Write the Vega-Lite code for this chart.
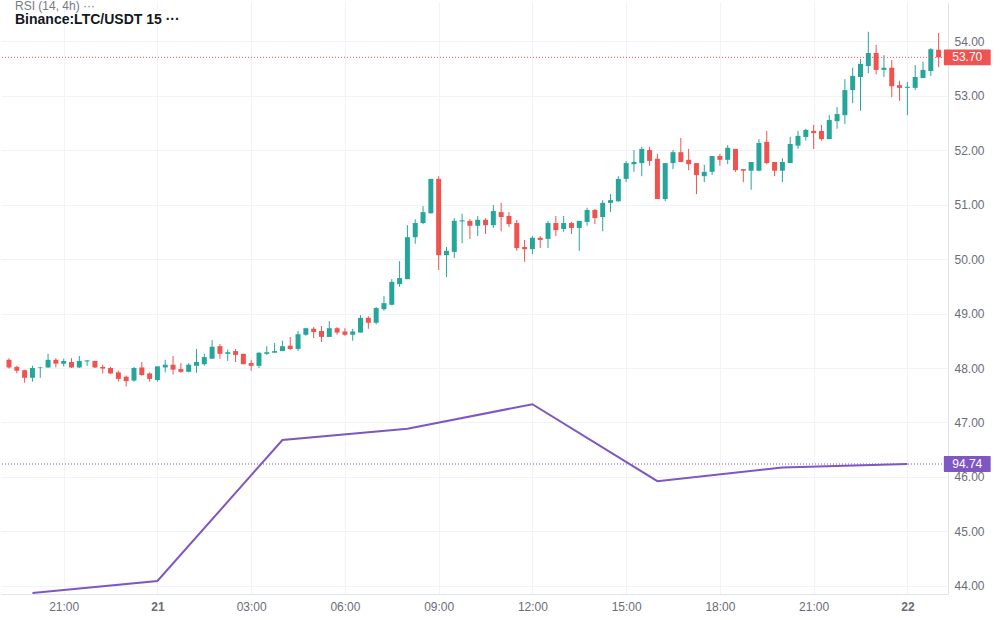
{
  "$schema": "https://vega.github.io/schema/vega-lite/v6.json",
  "width": 947,
  "height": 592,
  "padding": {"left": 0, "top": 0, "right": 5, "bottom": 5},
  "title": {
    "text": "RSI (14, 4h) ···",
    "subtitle": "Binance:LTC/USDT 15 ···",
    "anchor": "start",
    "frame": "group",
    "offset": -26,
    "dx": 14,
    "font": "Liberation Sans",
    "fontSize": 12,
    "fontWeight": "normal",
    "color": "#787b86",
    "subtitleFont": "Liberation Sans",
    "subtitleFontSize": 14,
    "subtitleFontWeight": "bold",
    "subtitleColor": "#131722",
    "subtitlePadding": 0
  },
  "layer": [
    {
      "data": {
        "values": [
          {"t":"2020-10-20T19:15","o":48.15,"h":48.18,"l":47.99,"c":48.01},
          {"t":"2020-10-20T19:30","o":48.02,"h":48.04,"l":47.90,"c":47.95},
          {"t":"2020-10-20T19:45","o":47.96,"h":47.97,"l":47.73,"c":47.82},
          {"t":"2020-10-20T20:00","o":47.82,"h":48.04,"l":47.75,"c":48.00},
          {"t":"2020-10-20T20:15","o":48.00,"h":48.02,"l":47.82,"c":48.01},
          {"t":"2020-10-20T20:30","o":48.01,"h":48.26,"l":48.00,"c":48.15},
          {"t":"2020-10-20T20:45","o":48.15,"h":48.18,"l":48.01,"c":48.08},
          {"t":"2020-10-20T21:00","o":48.08,"h":48.17,"l":48.03,"c":48.13},
          {"t":"2020-10-20T21:15","o":48.11,"h":48.18,"l":48.00,"c":48.01},
          {"t":"2020-10-20T21:30","o":48.01,"h":48.22,"l":48.00,"c":48.13},
          {"t":"2020-10-20T21:45","o":48.12,"h":48.14,"l":48.04,"c":48.14},
          {"t":"2020-10-20T22:00","o":48.13,"h":48.13,"l":48.00,"c":48.01},
          {"t":"2020-10-20T22:15","o":48.02,"h":48.06,"l":47.90,"c":47.99},
          {"t":"2020-10-20T22:30","o":48.00,"h":48.02,"l":47.89,"c":47.90},
          {"t":"2020-10-20T22:45","o":47.92,"h":47.95,"l":47.75,"c":47.80},
          {"t":"2020-10-20T23:00","o":47.84,"h":47.86,"l":47.66,"c":47.76},
          {"t":"2020-10-20T23:15","o":47.77,"h":48.02,"l":47.75,"c":48.00},
          {"t":"2020-10-20T23:30","o":48.01,"h":48.11,"l":47.86,"c":47.87},
          {"t":"2020-10-20T23:45","o":47.90,"h":47.92,"l":47.75,"c":47.80},
          {"t":"2020-10-21T00:00","o":47.78,"h":48.03,"l":47.75,"c":48.03},
          {"t":"2020-10-21T00:15","o":48.01,"h":48.15,"l":47.92,"c":48.06},
          {"t":"2020-10-21T00:30","o":48.06,"h":48.22,"l":47.88,"c":47.97},
          {"t":"2020-10-21T00:45","o":47.98,"h":48.09,"l":47.91,"c":47.93},
          {"t":"2020-10-21T01:00","o":47.93,"h":48.09,"l":47.92,"c":48.06},
          {"t":"2020-10-21T01:15","o":48.04,"h":48.35,"l":47.91,"c":48.11},
          {"t":"2020-10-21T01:30","o":48.07,"h":48.26,"l":48.04,"c":48.20},
          {"t":"2020-10-21T01:45","o":48.17,"h":48.51,"l":48.17,"c":48.39},
          {"t":"2020-10-21T02:00","o":48.40,"h":48.44,"l":48.17,"c":48.26},
          {"t":"2020-10-21T02:15","o":48.26,"h":48.34,"l":48.13,"c":48.29},
          {"t":"2020-10-21T02:30","o":48.31,"h":48.35,"l":48.11,"c":48.24},
          {"t":"2020-10-21T02:45","o":48.26,"h":48.26,"l":48.07,"c":48.07},
          {"t":"2020-10-21T03:00","o":48.09,"h":48.15,"l":47.95,"c":48.04},
          {"t":"2020-10-21T03:15","o":48.04,"h":48.29,"l":48.00,"c":48.28},
          {"t":"2020-10-21T03:30","o":48.26,"h":48.40,"l":48.24,"c":48.29},
          {"t":"2020-10-21T03:45","o":48.28,"h":48.46,"l":48.28,"c":48.31},
          {"t":"2020-10-21T04:00","o":48.31,"h":48.50,"l":48.31,"c":48.40},
          {"t":"2020-10-21T04:15","o":48.41,"h":48.57,"l":48.33,"c":48.35},
          {"t":"2020-10-21T04:30","o":48.35,"h":48.68,"l":48.31,"c":48.62},
          {"t":"2020-10-21T04:45","o":48.61,"h":48.73,"l":48.59,"c":48.73},
          {"t":"2020-10-21T05:00","o":48.72,"h":48.75,"l":48.55,"c":48.66},
          {"t":"2020-10-21T05:15","o":48.68,"h":48.77,"l":48.48,"c":48.57},
          {"t":"2020-10-21T05:30","o":48.57,"h":48.86,"l":48.57,"c":48.73},
          {"t":"2020-10-21T05:45","o":48.73,"h":48.75,"l":48.61,"c":48.65},
          {"t":"2020-10-21T06:00","o":48.67,"h":48.73,"l":48.59,"c":48.61},
          {"t":"2020-10-21T06:15","o":48.61,"h":48.72,"l":48.50,"c":48.67},
          {"t":"2020-10-21T06:30","o":48.65,"h":48.97,"l":48.65,"c":48.92},
          {"t":"2020-10-21T06:45","o":48.92,"h":48.95,"l":48.72,"c":48.83},
          {"t":"2020-10-21T07:00","o":48.83,"h":49.12,"l":48.80,"c":49.10},
          {"t":"2020-10-21T07:15","o":49.08,"h":49.32,"l":49.05,"c":49.19},
          {"t":"2020-10-21T07:30","o":49.16,"h":49.63,"l":49.15,"c":49.58},
          {"t":"2020-10-21T07:45","o":49.54,"h":49.96,"l":49.49,"c":49.65},
          {"t":"2020-10-21T08:00","o":49.63,"h":50.62,"l":49.63,"c":50.40},
          {"t":"2020-10-21T08:15","o":50.40,"h":50.73,"l":50.28,"c":50.66},
          {"t":"2020-10-21T08:30","o":50.66,"h":50.97,"l":50.64,"c":50.86},
          {"t":"2020-10-21T08:45","o":50.84,"h":51.47,"l":50.83,"c":51.47},
          {"t":"2020-10-21T09:00","o":51.47,"h":51.52,"l":49.80,"c":50.07},
          {"t":"2020-10-21T09:15","o":50.07,"h":50.22,"l":49.67,"c":50.15},
          {"t":"2020-10-21T09:30","o":50.13,"h":50.75,"l":50.02,"c":50.70},
          {"t":"2020-10-21T09:45","o":50.69,"h":50.83,"l":50.29,"c":50.71},
          {"t":"2020-10-21T10:00","o":50.70,"h":50.73,"l":50.37,"c":50.61},
          {"t":"2020-10-21T10:15","o":50.61,"h":50.79,"l":50.42,"c":50.72},
          {"t":"2020-10-21T10:30","o":50.72,"h":50.75,"l":50.46,"c":50.62},
          {"t":"2020-10-21T10:45","o":50.62,"h":50.99,"l":50.57,"c":50.88},
          {"t":"2020-10-21T11:00","o":50.86,"h":51.03,"l":50.51,"c":50.77},
          {"t":"2020-10-21T11:15","o":50.79,"h":50.86,"l":50.59,"c":50.64},
          {"t":"2020-10-21T11:30","o":50.66,"h":50.72,"l":50.15,"c":50.20},
          {"t":"2020-10-21T11:45","o":50.22,"h":50.35,"l":49.95,"c":50.18},
          {"t":"2020-10-21T12:00","o":50.18,"h":50.42,"l":50.09,"c":50.39},
          {"t":"2020-10-21T12:15","o":50.39,"h":50.42,"l":50.20,"c":50.35},
          {"t":"2020-10-21T12:30","o":50.37,"h":50.70,"l":50.20,"c":50.66},
          {"t":"2020-10-21T12:45","o":50.66,"h":50.79,"l":50.42,"c":50.53},
          {"t":"2020-10-21T13:00","o":50.55,"h":50.79,"l":50.50,"c":50.66},
          {"t":"2020-10-21T13:15","o":50.66,"h":50.68,"l":50.46,"c":50.57},
          {"t":"2020-10-21T13:30","o":50.57,"h":50.70,"l":50.15,"c":50.70},
          {"t":"2020-10-21T13:45","o":50.68,"h":50.94,"l":50.61,"c":50.90},
          {"t":"2020-10-21T14:00","o":50.90,"h":50.92,"l":50.64,"c":50.75},
          {"t":"2020-10-21T14:15","o":50.77,"h":51.08,"l":50.51,"c":51.03},
          {"t":"2020-10-21T14:30","o":51.03,"h":51.19,"l":50.86,"c":51.08},
          {"t":"2020-10-21T14:45","o":51.06,"h":51.52,"l":51.05,"c":51.47},
          {"t":"2020-10-21T15:00","o":51.47,"h":51.80,"l":51.41,"c":51.76},
          {"t":"2020-10-21T15:15","o":51.74,"h":52.00,"l":51.60,"c":51.78},
          {"t":"2020-10-21T15:30","o":51.76,"h":52.06,"l":51.52,"c":52.02},
          {"t":"2020-10-21T15:45","o":52.00,"h":52.06,"l":51.71,"c":51.80},
          {"t":"2020-10-21T16:00","o":51.84,"h":51.93,"l":51.10,"c":51.10},
          {"t":"2020-10-21T16:15","o":51.10,"h":51.76,"l":51.06,"c":51.76},
          {"t":"2020-10-21T16:30","o":51.76,"h":52.00,"l":51.65,"c":51.96},
          {"t":"2020-10-21T16:45","o":51.96,"h":52.22,"l":51.78,"c":51.78},
          {"t":"2020-10-21T17:00","o":51.82,"h":52.02,"l":51.63,"c":51.74},
          {"t":"2020-10-21T17:15","o":51.76,"h":51.76,"l":51.19,"c":51.54},
          {"t":"2020-10-21T17:30","o":51.52,"h":51.73,"l":51.41,"c":51.60},
          {"t":"2020-10-21T17:45","o":51.60,"h":51.89,"l":51.54,"c":51.89},
          {"t":"2020-10-21T18:00","o":51.89,"h":51.93,"l":51.71,"c":51.82},
          {"t":"2020-10-21T18:15","o":51.82,"h":52.09,"l":51.74,"c":52.04},
          {"t":"2020-10-21T18:30","o":52.02,"h":52.02,"l":51.60,"c":51.63},
          {"t":"2020-10-21T18:45","o":51.65,"h":51.65,"l":51.41,"c":51.62},
          {"t":"2020-10-21T19:00","o":51.62,"h":51.78,"l":51.27,"c":51.78},
          {"t":"2020-10-21T19:15","o":51.62,"h":52.20,"l":51.61,"c":52.13},
          {"t":"2020-10-21T19:30","o":52.15,"h":52.35,"l":51.74,"c":51.76},
          {"t":"2020-10-21T19:45","o":51.78,"h":51.78,"l":51.52,"c":51.62},
          {"t":"2020-10-21T20:00","o":51.62,"h":51.85,"l":51.41,"c":51.78},
          {"t":"2020-10-21T20:15","o":51.76,"h":52.24,"l":51.76,"c":52.11},
          {"t":"2020-10-21T20:30","o":52.08,"h":52.35,"l":52.02,"c":52.26},
          {"t":"2020-10-21T20:45","o":52.24,"h":52.39,"l":52.17,"c":52.37},
          {"t":"2020-10-21T21:00","o":52.35,"h":52.46,"l":52.02,"c":52.31},
          {"t":"2020-10-21T21:15","o":52.35,"h":52.46,"l":52.17,"c":52.20},
          {"t":"2020-10-21T21:30","o":52.20,"h":52.64,"l":52.20,"c":52.55},
          {"t":"2020-10-21T21:45","o":52.53,"h":52.79,"l":52.39,"c":52.66},
          {"t":"2020-10-21T22:00","o":52.64,"h":53.30,"l":52.48,"c":53.10},
          {"t":"2020-10-21T22:15","o":53.10,"h":53.51,"l":52.86,"c":53.36},
          {"t":"2020-10-21T22:30","o":53.34,"h":53.67,"l":52.72,"c":53.58},
          {"t":"2020-10-21T22:45","o":53.54,"h":54.17,"l":53.41,"c":53.78},
          {"t":"2020-10-21T23:00","o":53.78,"h":53.93,"l":53.39,"c":53.47},
          {"t":"2020-10-21T23:15","o":53.47,"h":53.74,"l":53.34,"c":53.51},
          {"t":"2020-10-21T23:30","o":53.51,"h":53.65,"l":52.97,"c":53.17},
          {"t":"2020-10-21T23:45","o":53.19,"h":53.27,"l":52.90,"c":53.14},
          {"t":"2020-10-22T00:00","o":53.14,"h":53.25,"l":52.64,"c":53.16},
          {"t":"2020-10-22T00:15","o":53.14,"h":53.56,"l":53.10,"c":53.34},
          {"t":"2020-10-22T00:30","o":53.32,"h":53.62,"l":53.32,"c":53.47},
          {"t":"2020-10-22T00:45","o":53.45,"h":53.87,"l":53.36,"c":53.85},
          {"t":"2020-10-22T01:00","o":53.84,"h":54.15,"l":53.52,"c":53.70}
        ]
      },
      "layer": [
        {
          "mark": {"type": "rule", "strokeWidth": 1},
          "encoding": {
            "x": {
              "field": "t",
              "type": "temporal",
              "title": null,
              "scale": {
                "domain": [
                  {"year": 2020, "month": 10, "date": 20, "hours": 19, "minutes": 9, "seconds": 14},
                  {"year": 2020, "month": 10, "date": 22, "hours": 1, "minutes": 8, "seconds": 24}
                ]
              },
              "axis": {
                "tickCount": 10,
                "labelExpr": "hours(datum.value) == 0 ? timeFormat(datum.value, '%-d') : timeFormat(datum.value, '%H:%M')",
                "labelFontWeight": {"condition": {"test": "hours(datum.value) == 0", "value": "bold"}, "value": "normal"},
                "labelPadding": 7,
                "labelFlush": false
              }
            },
            "y": {
              "field": "l",
              "type": "quantitative",
              "title": null,
              "scale": {"domain": [43.853, 54.716], "nice": false, "zero": false},
              "axis": {"orient": "right", "values": [44, 45, 46, 47, 48, 49, 50, 51, 52, 53, 54], "format": ".2f", "labelPadding": 6}
            },
            "y2": {"field": "h"},
            "color": {"condition": {"test": "datum.c >= datum.o", "value": "#26a69a"}, "value": "#ef5350"}
          }
        },
        {
          "mark": {"type": "bar", "size": 5},
          "encoding": {
            "x": {"field": "t", "type": "temporal"},
            "y": {"field": "o", "type": "quantitative"},
            "y2": {"field": "c"},
            "color": {"condition": {"test": "datum.c >= datum.o", "value": "#26a69a"}, "value": "#ef5350"}
          }
        },
        {
          "data": {"values": [{"price": 53.70}]},
          "mark": {"type": "rule", "color": "#ef5350", "strokeWidth": 1, "strokeDash": [1, 2]},
          "encoding": {"y": {"field": "price", "type": "quantitative"}}
        },
        {
          "data": {"values": [{"price": 53.70}]},
          "mark": {"type": "rect", "color": "#ef5350", "cornerRadius": 1},
          "encoding": {
            "x": {"datum": {"year": 2020, "month": 10, "date": 22, "hours": 1, "minutes": 10}},
            "x2": {"datum": {"year": 2020, "month": 10, "date": 22, "hours": 2, "minutes": 40}},
            "y": {"datum": 53.846},
            "y2": {"datum": 53.554}
          }
        },
        {
          "data": {"values": [{"price": 53.70}]},
          "mark": {"type": "text", "color": "white", "font": "Liberation Sans", "fontSize": 12, "align": "center", "baseline": "middle"},
          "encoding": {
            "x": {"datum": {"year": 2020, "month": 10, "date": 22, "hours": 1, "minutes": 55}},
            "y": {"field": "price", "type": "quantitative"},
            "text": {"field": "price", "type": "quantitative", "format": ".2f"}
          }
        }
      ]
    },
    {
      "data": {
        "values": [
          {"t":"2020-10-20T20:00","rsi":88.29},
          {"t":"2020-10-21T00:00","rsi":88.89},
          {"t":"2020-10-21T04:00","rsi":95.94},
          {"t":"2020-10-21T08:00","rsi":96.50},
          {"t":"2020-10-21T12:00","rsi":97.73},
          {"t":"2020-10-21T16:00","rsi":93.88},
          {"t":"2020-10-21T20:00","rsi":94.56},
          {"t":"2020-10-22T00:00","rsi":94.74}
        ]
      },
      "layer": [
        {
          "mark": {"type": "line", "color": "#7e57c2", "strokeWidth": 2},
          "encoding": {
            "x": {"field": "t", "type": "temporal"},
            "y": {
              "field": "rsi",
              "type": "quantitative",
              "scale": {"domain": [88.24, 117.84], "nice": false, "zero": false},
              "axis": null
            }
          }
        },
        {
          "data": {"values": [{"rsi": 94.74}]},
          "mark": {"type": "rule", "color": "#7e57c2", "strokeWidth": 1, "strokeDash": [1, 2]},
          "encoding": {"y": {"field": "rsi", "type": "quantitative"}}
        },
        {
          "data": {"values": [{"rsi": 94.74}]},
          "mark": {"type": "rect", "color": "#7e57c2", "cornerRadius": 1},
          "encoding": {
            "x": {"datum": {"year": 2020, "month": 10, "date": 22, "hours": 1, "minutes": 10}},
            "x2": {"datum": {"year": 2020, "month": 10, "date": 22, "hours": 2, "minutes": 40}},
            "y": {"datum": 95.14},
            "y2": {"datum": 94.34}
          }
        },
        {
          "data": {"values": [{"rsi": 94.74}]},
          "mark": {"type": "text", "color": "white", "font": "Liberation Sans", "fontSize": 12, "align": "center", "baseline": "middle"},
          "encoding": {
            "x": {"datum": {"year": 2020, "month": 10, "date": 22, "hours": 1, "minutes": 55}},
            "y": {"field": "rsi", "type": "quantitative"},
            "text": {"field": "rsi", "type": "quantitative", "format": ".2f"}
          }
        }
      ]
    }
  ],
  "resolve": {"scale": {"y": "independent"}},
  "config": {
    "view": {"stroke": null},
    "axis": {
      "labelFont": "Liberation Sans",
      "labelFontSize": 12,
      "labelColor": "#6a6d78",
      "ticks": false,
      "gridColor": "#f0f3fa",
      "domainColor": "#e0e3eb"
    }
  }
}
